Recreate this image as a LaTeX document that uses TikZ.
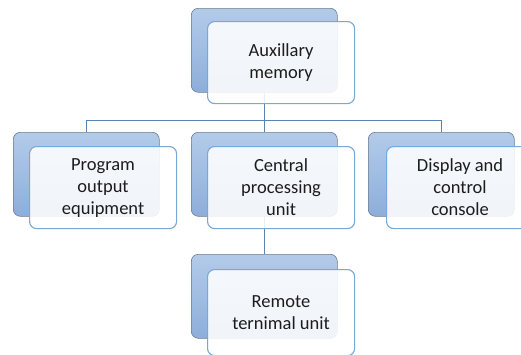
\documentclass[tikz,border=0pt]{standalone}
\usepackage{fontspec}
\setmainfont{Carlito}
\definecolor{backtop}{HTML}{B3CBEA}
\definecolor{backbot}{HTML}{8DAEDA}
\definecolor{backline}{HTML}{6F7C8C}
\definecolor{frontline}{HTML}{78A7D8}
\definecolor{linkline}{HTML}{5A82B0}
\definecolor{txt}{HTML}{1C1C1C}
\begin{document}
\begin{tikzpicture}[x=1pt,y=1pt,
  backbox/.style={draw=backline, line width=0.6pt, rounded corners=7pt,
    top color=backtop, bottom color=backbot, minimum width=146pt,
    minimum height=84pt, anchor=north west, inner sep=0pt},
  frontbox/.style={draw=frontline, line width=1.1pt, rounded corners=7pt,
    fill=white, fill opacity=0.88, text opacity=1, text=txt,
    minimum width=147pt, minimum height=82pt, anchor=north west,
    inner sep=0pt, align=center, font=\fontsize{18.5}{22}\selectfont},
  link/.style={draw=linkline, line width=0.8pt}]
\useasboundingbox (0,0) rectangle (521,-354);
\clip (0,0) rectangle (521,-354);
% back boxes
\node[backbox] (aB) at (191,-8) {};
\node[backbox] (pB) at (13,-132) {};
\node[backbox] (cB) at (191,-132) {};
\node[backbox] (dB) at (368,-132) {};
\node[backbox] (rB) at (191,-254) {};
% connectors
\draw[link] (aB.south) -- ++(0,-28) coordinate (j);
\draw[link] (pB.north) |- (j) -| (dB.north);
\draw[link] (j) -- (cB.north);
\draw[link] (cB.south) -- (rB.north);
% front boxes
\node[frontbox] (a) at (207,-21) {Auxillary\\memory};
\node[frontbox] (p) at (29,-146) {Program\\output\\equipment};
\node[frontbox] (c) at (207,-146) {Central\\processing\\unit};
\node[frontbox] (d) at (386,-146) {Display and\\control\\console};
\node[frontbox, minimum height=86pt] (r) at (207,-269) {Remote\\ternimal unit};
\end{tikzpicture}
\end{document}
